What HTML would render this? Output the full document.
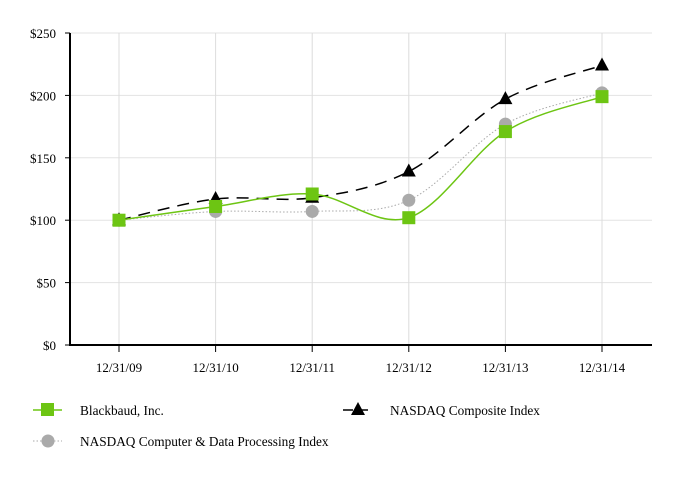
<!DOCTYPE html>
<html><head><meta charset="utf-8"><style>
body{margin:0;background:#fff;}
svg{display:block;font-family:"Liberation Serif",serif;}
</style></head><body>
<svg id="chart" width="684" height="480" viewBox="0 0 684 480"></svg>
<script>
const categories=["12/31/09","12/31/10","12/31/11","12/31/12","12/31/13","12/31/14"];
const blackbaud=[100,111,121,102,171,199];
const nasdaqComposite=[100,117,118,139,197,224];
const nasdaqComputer=[100,107,107,116,177,202];
const yTicks=[0,50,100,150,200,250];
const yTickLabels=["$0","$50","$100","$150","$200","$250"];

const NS="http://www.w3.org/2000/svg";
const svg=document.getElementById('chart');
const x0=119,dx=96.6,yTop=33,yBot=345,yMax=250;
const X=i=>x0+i*dx;
const Y=v=>yBot-(v/yMax)*(yBot-yTop);
function mk(tag,attrs,parent){const e=document.createElementNS(NS,tag);for(const k in attrs)e.setAttribute(k,attrs[k]);(parent||svg).appendChild(e);return e;}
function spline(pts){let d=`M${pts[0][0]},${pts[0][1]}`;for(let i=0;i<pts.length-1;i++){const p0=pts[i-1]||pts[i],p1=pts[i],p2=pts[i+1],p3=pts[i+2]||p2;const t=6;d+=` C${p1[0]+(p2[0]-p0[0])/t},${p1[1]+(p2[1]-p0[1])/t} ${p2[0]-(p3[0]-p1[0])/t},${p2[1]-(p3[1]-p1[1])/t} ${p2[0]},${p2[1]}`;}return d;}

yTicks.forEach((v,i)=>{
  const g=mk('line',{x1:70,x2:652,y1:Y(v),y2:Y(v),stroke:'#e3e3e3','stroke-width':1});
  
  
  const t=mk('line',{x1:65,x2:70,y1:Y(v),y2:Y(v),stroke:'#000'});
  
  
  const l=mk('text',{x:56,y:Y(v)+5,'text-anchor':'end','font-size':13});
  l.textContent=yTickLabels[i];
  
  
});
categories.forEach((c,i)=>{
  const g=mk('line',{x1:X(i),x2:X(i),y1:yTop,y2:yBot,stroke:'#dcdcdc'});
  
  
  const t=mk('line',{x1:X(i),x2:X(i),y1:yBot,y2:yBot+7,stroke:'#000'});
  
  
  const l=mk('text',{x:X(i),y:372,'text-anchor':'middle','font-size':13});
  l.textContent=c;
  
  
});
const ya=mk('line',{x1:70,x2:70,y1:yTop,y2:yBot+1,stroke:'#000','stroke-width':2});


const xa=mk('line',{x1:69,x2:652,y1:yBot,y2:yBot,stroke:'#000','stroke-width':2});



function pts(arr){return arr.map((v,i)=>[X(i),Y(v)]);}
const p3=mk('path',{d:spline(pts(nasdaqComputer)),fill:'none',stroke:'#aaa','stroke-width':1,'stroke-dasharray':'1.5,2'});


nasdaqComputer.forEach((v,i)=>{const c=mk('circle',{cx:X(i),cy:Y(v),r:6.5,fill:'#aaa'});

});
const p2=mk('path',{d:spline(pts(nasdaqComposite)),fill:'none',stroke:'#000','stroke-width':1.5,'stroke-dasharray':'12,8'});


nasdaqComposite.forEach((v,i)=>{const x=X(i),y=Y(v);const t=mk('polygon',{points:`${x},${y-8} ${x-7},${y+5} ${x+7},${y+5}`,fill:'#000'});

});
const p1=mk('path',{d:spline(pts(blackbaud)),fill:'none',stroke:'#6dc513','stroke-width':1.5});


blackbaud.forEach((v,i)=>{const r=mk('rect',{x:X(i)-6.5,y:Y(v)-6.5,width:13,height:13,fill:'#6dc513'});

});
</script>
<svg style="position:absolute;left:0;top:0" width="684" height="480">
  <g>
    <line x1="33" y1="410" x2="62" y2="410" stroke="#6dc513" stroke-width="1.5"/>
    <rect x="41" y="403" width="13" height="13" fill="#6dc513"/>
    <text x="80" y="415" font-size="13.3" font-family="Liberation Serif, serif">Blackbaud, Inc.</text>
  </g>
  <g>
    <line x1="343" y1="410" x2="372" y2="410" stroke="#000" stroke-width="1.5" stroke-dasharray="10,5"/>
    <polygon points="358,402 351,415 365,415" fill="#000"/>
    <text x="390" y="415" font-size="13.3" font-family="Liberation Serif, serif">NASDAQ Composite Index</text>
  </g>
  <g>
    <line x1="33" y1="441" x2="62" y2="441" stroke="#aaa" stroke-width="1" stroke-dasharray="1.5,2"/>
    <circle cx="48" cy="441" r="6.5" fill="#aaa"/>
    <text x="80" y="446" font-size="13.3" font-family="Liberation Serif, serif">NASDAQ Computer &amp; Data Processing Index</text>
  </g>
</svg>
</body></html>
